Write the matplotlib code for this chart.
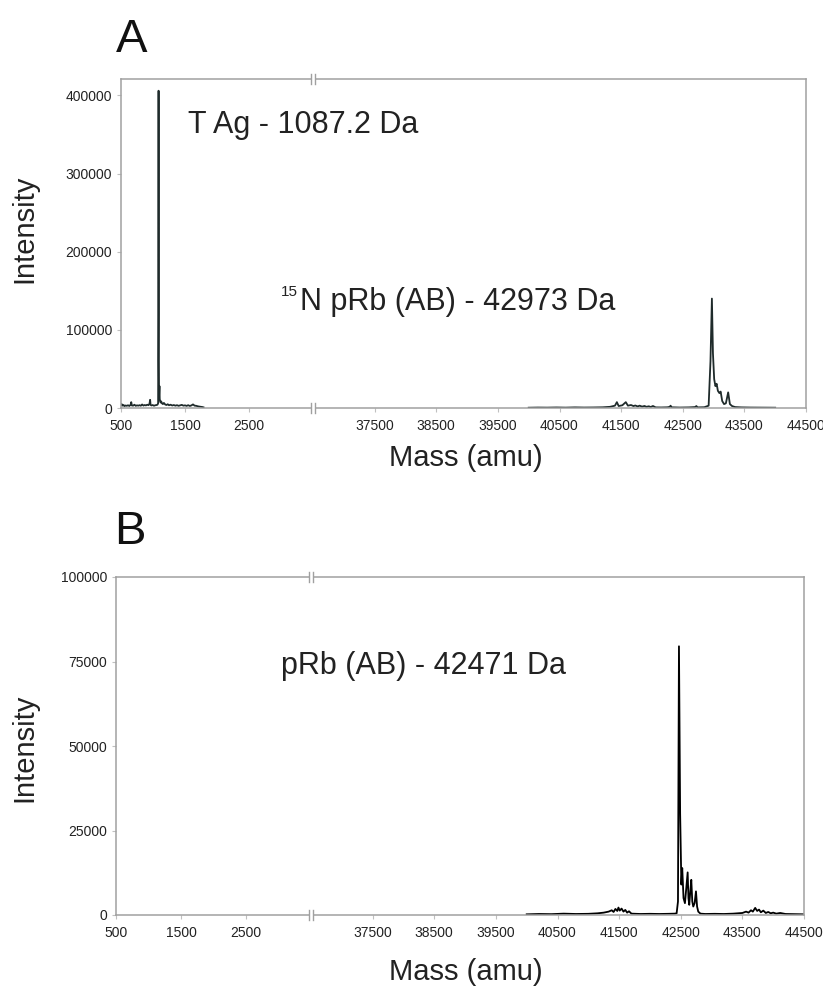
import matplotlib
matplotlib.use('Agg')
import matplotlib.pyplot as plt
from matplotlib.lines import Line2D
from matplotlib.patches import Rectangle

plt.rcParams['font.family'] = ['Liberation Sans', 'DejaVu Sans']

W, H = 823, 994

# ---- panel A: T antigen peptide (low mass) + 15N pRb (high mass) ----
a_low_mass = [500, 510, 525, 540, 555, 570, 590, 610, 630, 650,
              660, 670, 690, 710, 730, 750, 770, 790, 810, 830,
              850, 870, 890, 910, 930, 945, 955, 962, 975, 995,
              1015, 1035, 1055, 1070, 1080, 1084, 1087, 1090, 1094, 1098,
              1101, 1105, 1110, 1118, 1128, 1140, 1155, 1170, 1190, 1210,
              1230, 1250, 1275, 1300, 1325, 1350, 1375, 1400, 1425, 1450,
              1475, 1500, 1525, 1550, 1575, 1600, 1625, 1650, 1675, 1700,
              1725, 1750, 1775, 1790]
a_low_int = [3500, 5000, 3000, 3800, 2500, 3200, 2800, 3500, 2600, 4000,
             7500, 3200, 3000, 4200, 2800, 3400, 3000, 3600, 2900, 4500,
             3100, 3800, 3300, 4200, 3600, 5500, 10500, 4000, 3200, 3800,
             2900, 3500, 3800, 4200, 6000, 120000, 406000, 60000, 14000, 22000,
             28000, 12000, 9000, 7000, 8500, 6000, 5000, 6500, 4500, 3800,
             4800, 3500, 4200, 3200, 3800, 3000, 3600, 2800, 3400, 4000,
             3000, 3400, 2700, 3600, 2600, 3300, 4600, 3000, 2800, 2200,
             1800, 1500, 1200, 800]

a_high_mass = [40000, 40150, 40300, 40450, 40600, 40750, 40900, 41050, 41200, 41320,
               41400, 41431, 41460, 41520, 41576, 41610, 41660, 41700, 41730, 41770,
               41800, 41840, 41880, 41910, 41950, 41980, 42016, 42060, 42150, 42250,
               42290, 42302, 42320, 42450, 42600, 42700, 42721, 42740, 42850, 42920,
               42950, 42973, 42990, 43010, 43030, 43050, 43070, 43095, 43115, 43140,
               43170, 43200, 43237, 43265, 43300, 43350, 43450, 43600, 43800, 44000]
a_high_int = [400, 600, 500, 700, 500, 800, 600, 700, 900, 1500,
              3000, 7500, 2500, 3500, 7500, 3000, 3800, 2500, 3200, 2000,
              3000, 1800, 2600, 1500, 2200, 1200, 2600, 800, 700, 900,
              1500, 3000, 900, 600, 800, 1200, 2500, 800, 1000, 3000,
              60000, 140000, 70000, 37000, 28000, 31000, 22000, 19000, 21000, 9000,
              5000, 6000, 20000, 5000, 2500, 1200, 800, 600, 500, 400]

# ---- panel B: unlabelled pRb (high mass only) ----
b_high_mass = [40000, 40200, 40400, 40600, 40800, 41000, 41150, 41250, 41330, 41380,
               41410, 41440, 41470, 41489, 41510, 41540, 41570, 41600, 41630, 41660,
               41700, 41850, 42000, 42150, 42300, 42400, 42433, 42455, 42471, 42490,
               42510, 42524, 42545, 42568, 42590, 42612, 42625, 42638, 42655, 42671,
               42687, 42703, 42725, 42747, 42765, 42784, 42820, 42900, 43050, 43200,
               43350, 43500, 43560, 43600, 43640, 43670, 43708, 43740, 43770, 43800,
               43840, 43880, 43920, 43960, 44000, 44050, 44114, 44200, 44350, 44500]
b_high_int = [200, 300, 250, 400, 300, 350, 500, 700, 1000, 1400,
              900, 1800, 1200, 2200, 1300, 1900, 1000, 1500, 700, 1100,
              400, 300, 350, 300, 350, 400, 500, 4000, 79500, 30000,
              9000, 13900, 5000, 3500, 8000, 12600, 5000, 3000, 7000, 10400,
              4000, 2500, 3500, 7000, 2500, 1000, 400, 300, 350, 300,
              400, 600, 1000, 700, 1400, 1000, 2100, 1200, 1600, 800,
              1300, 600, 900, 500, 700, 400, 600, 300, 250, 200]

low_range = (500, 3500)
high_range = (36500, 44500)
low_ticks = [500, 1500, 2500]
high_ticks = [37500, 38500, 39500, 40500, 41500, 42500, 43500, 44500]
a_yticks = [0, 100000, 200000, 300000, 400000]
b_yticks = [0, 25000, 50000, 75000, 100000]

SPINE = '#a0a0a0'


def fx(px):
    return px / W


def fy(py):
    return 1 - py / H


def make_panel(fig, left, brk, right, top, bot, ymax, yticks):
    ax_lo = fig.add_axes([fx(left), fy(bot), (brk - left) / W, (bot - top) / H])
    ax_hi = fig.add_axes([fx(brk), fy(bot), (right - brk) / W, (bot - top) / H])
    for ax, rng, ticks in [(ax_lo, low_range, low_ticks), (ax_hi, high_range, high_ticks)]:
        ax.set_xlim(*rng)
        ax.set_ylim(0, ymax)
        ax.set_xticks(ticks)
        ax.set_xticklabels([str(t) for t in ticks])
        for s in ax.spines.values():
            s.set_color(SPINE)
            s.set_linewidth(1.1)
        ax.tick_params(axis='both', direction='out', length=3, width=0.8,
                       color='#c0c0c0', labelsize=10, labelcolor='#222222')
        ax.tick_params(axis='x', pad=5)
        ax.tick_params(axis='y', pad=3.5)
    ax_lo.spines['right'].set_visible(False)
    ax_hi.spines['left'].set_visible(False)
    ax_lo.set_yticks(yticks)
    ax_lo.set_yticklabels([str(t) for t in yticks])
    ax_hi.set_yticks([])

    # break marks "||" on top and bottom spine
    for yy in (top, bot):
        fig.add_artist(Rectangle((fx(brk - 1.8), fy(yy + 1.5)), 3.6 / W, 3 / H,
                                 transform=fig.transFigure, facecolor='white',
                                 edgecolor='none', zorder=10))
        for dx in (-1.8, 1.8):
            fig.add_artist(Line2D([fx(brk + dx), fx(brk + dx)], [fy(yy - 5), fy(yy + 5)],
                                  transform=fig.transFigure, color=SPINE, lw=1.0,
                                  zorder=11))
    return ax_lo, ax_hi


fig = plt.figure(figsize=(W / 100, H / 100), dpi=100)

# panel A
axA_lo, axA_hi = make_panel(fig, 121, 313, 806, 79, 408, 421000, a_yticks)
axA_lo.plot(a_low_mass, a_low_int, color='#1f2b2b', lw=1.3)
axA_hi.plot(a_high_mass, a_high_int, color='#1f2b2b', lw=1.3)

# panel B
axB_lo, axB_hi = make_panel(fig, 116, 311, 804, 577, 915, 100000, b_yticks)
axB_hi.plot(b_high_mass, b_high_int, color='black', lw=1.3)

# panel letters
fig.text(fx(116), fy(52), 'A', fontsize=34, va='baseline', color='#111111')
fig.text(fx(114), fy(544), 'B', fontsize=34, va='baseline', color='#111111')

# axis titles
for ycen in (229, 748):
    fig.text(fx(24), fy(ycen), 'Intensity', fontsize=21, rotation=90,
             ha='center', va='center', color='#222222')
fig.text(fx(466), fy(458), 'Mass (amu)', fontsize=21, ha='center', va='center',
         color='#222222')
fig.text(fx(466), fy(972), 'Mass (amu)', fontsize=21, ha='center', va='center',
         color='#222222')

# peak annotations
fig.text(fx(188), fy(133), 'T Ag - 1087.2 Da', fontsize=22, va='baseline',
         color='#222222')
fig.text(fx(281), fy(296), '15', fontsize=11, va='baseline', color='#222222')
fig.text(fx(300), fy(310), 'N pRb (AB) - 42973 Da', fontsize=22,
         va='baseline', color='#222222')
fig.text(fx(281), fy(674), 'pRb (AB) - 42471 Da', fontsize=22, va='baseline',
         color='#222222')

fig.savefig('out.png', dpi=100)
